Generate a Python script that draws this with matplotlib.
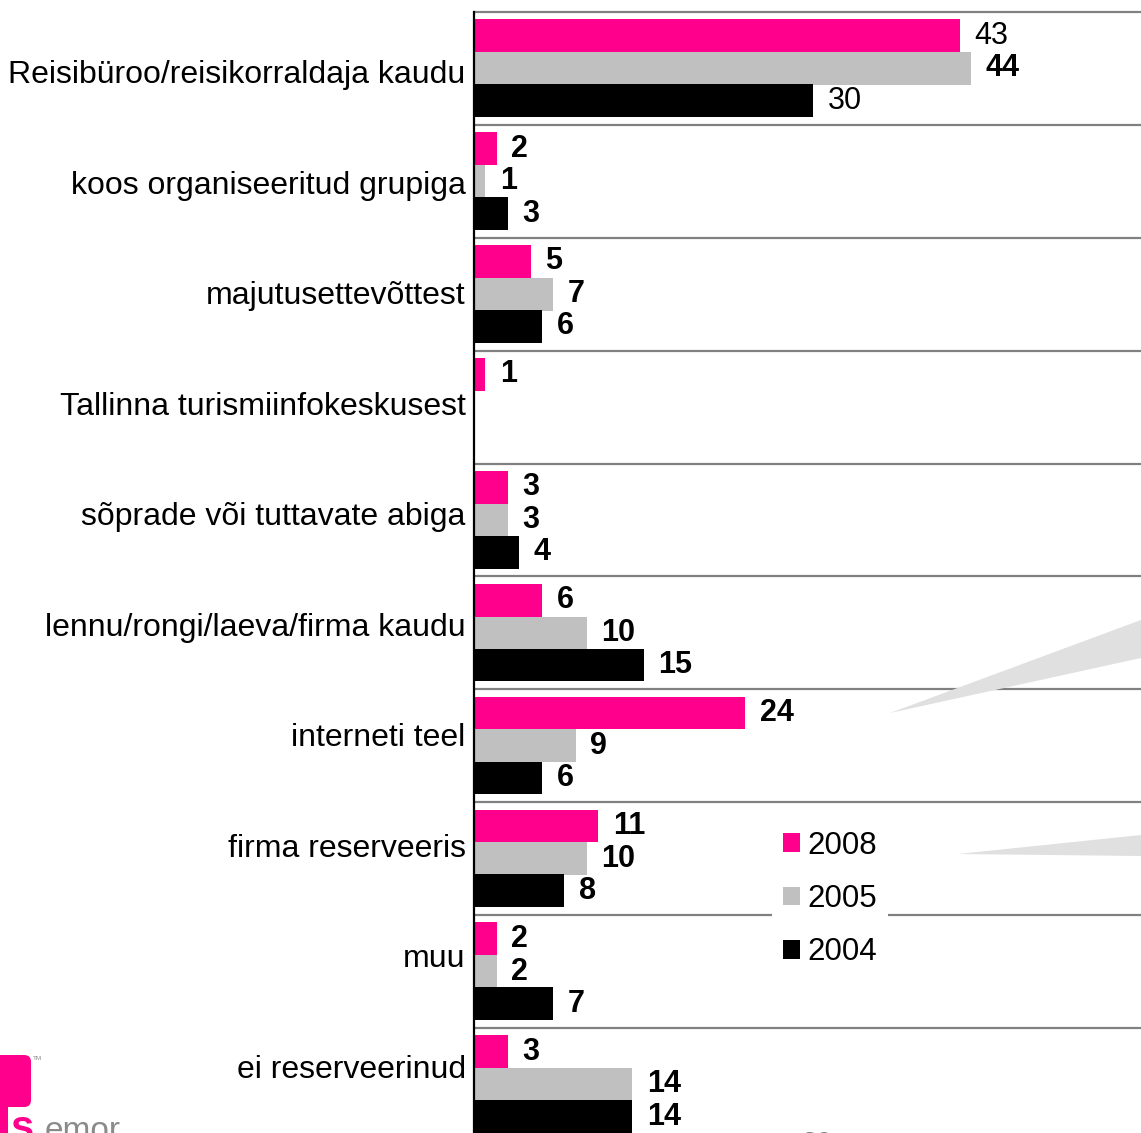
import numpy as np
import matplotlib
matplotlib.use("Agg")
import matplotlib.pyplot as plt
from matplotlib.patches import Patch, Polygon, FancyBboxPatch, Rectangle

categories = [
    "Reisibüroo/reisikorraldaja kaudu",
    "koos organiseeritud grupiga",
    "majutusettevõttest",
    "Tallinna turismiinfokeskusest",
    "sõprade või tuttavate abiga",
    "lennu/rongi/laeva/firma kaudu",
    "interneti teel",
    "firma reserveeris",
    "muu",
    "ei reserveerinud",
]
series_names = ["2008", "2005", "2004"]
v2008 = [43, 2, 5, 1, 3, 6, 24, 11, 2, 3]
v2005 = [44, 1, 7, None, 3, 10, 9, 10, 2, 14]
v2004 = [30, 3, 6, None, 4, 15, 6, 8, 7, 14]
colors = ["#FF008C", "#C0C0C0", "#000000"]

plt.rcParams["font.family"] = ["Liberation Sans", "DejaVu Sans"]

W, H = 1141, 1133
fig = plt.figure(figsize=(W / 100, H / 100), dpi=100)
ax = fig.add_axes([474 / W, 0, 1 - 474 / W, (H - 12) / H])

y = np.arange(len(categories))
offsets = [-0.29, 0.0, 0.285]
bar_h = 0.29
for k, (vals, col) in enumerate(zip([v2008, v2005, v2004], colors)):
    arr = np.array([np.nan if v is None else v for v in vals], dtype=float)
    bars = ax.barh(y + offsets[k], np.nan_to_num(arr), height=bar_h, color=col,
                   label=series_names[k], zorder=2)
    labels = ["" if v is None else str(v) for v in vals]
    texts = ax.bar_label(bars, labels=labels, padding=10.5, fontsize=22,
                         fontweight="bold", color="black")
    if k in (0, 2):
        texts[0].set_fontweight("normal")

ax.hlines(np.arange(-0.5, len(categories) + 0.5, 1), 0, 59, color="#808080",
          lw=1.6, zorder=1, clip_on=False)

ax.set_xlim(0, (W - 474) / 11.3)
ax.set_ylim(9.43, -0.5)
# category labels sit on a slightly tighter pitch than the bar groups
ax.set_yticks(np.linspace(0.03, 8.84, len(categories)))
ax.set_yticklabels(categories, fontsize=23)
ax.tick_params(axis="y", length=0, pad=6)
ax.set_xticks([])
for s in ["top", "right", "bottom"]:
    ax.spines[s].set_visible(False)
ax.spines["left"].set_color("black")
ax.spines["left"].set_linewidth(1.6)
ax.spines["left"].set_zorder(3)

handles = [Patch(facecolor=c, edgecolor="none") for c in colors]
leg = ax.legend(handles, series_names, loc="upper left",
                bbox_to_anchor=(772 / W, 1 - 820 / H), bbox_transform=fig.transFigure,
                fontsize=22.5, frameon=True, fancybox=False, framealpha=1,
                facecolor="white", edgecolor="none", handlelength=0.55,
                handleheight=0.55, handletextpad=0.22, labelspacing=0.74,
                borderpad=0.35, borderaxespad=0)
leg.set_zorder(5)

# decorative grey wedges
def fy(p):
    return 1 - p / H

for pts in ([(890, 713), (W, 620), (W, 658)], [(958, 854), (W, 835), (W, 856)]):
    fig.patches.append(Polygon([(px / W, fy(py)) for px, py in pts], closed=True,
                               transform=fig.transFigure, facecolor="#E0E0E0",
                               edgecolor="none", zorder=3))

# logo
fig.patches.append(FancyBboxPatch((-10 / W, fy(1107)), 41 / W, 52 / H,
                                  boxstyle="round,pad=0,rounding_size=0.006",
                                  transform=fig.transFigure, facecolor="#FF008C",
                                  edgecolor="none", zorder=3))
fig.patches.append(Rectangle((0, 0), 8 / W, fy(1107), transform=fig.transFigure,
                             facecolor="#FF008C", edgecolor="none", zorder=3))
fig.text(10 / W, fy(1140), "s", color="#FF008C", fontsize=30, fontweight="bold",
         va="baseline", ha="left")
fig.text(45 / W, fy(1140), "emor", color="#8A8A8A", fontsize=24,
         family=["Liberation Sans Narrow", "Liberation Sans"], va="baseline", ha="left")
fig.text(33 / W, fy(1056), "TM", color="#8A8A8A", fontsize=4.5, va="top", ha="left")
fig.text(802 / W, fy(1131), "20", color="#808080", fontsize=20, va="top", ha="left")

fig.savefig("out.png", dpi=100, facecolor="white")
